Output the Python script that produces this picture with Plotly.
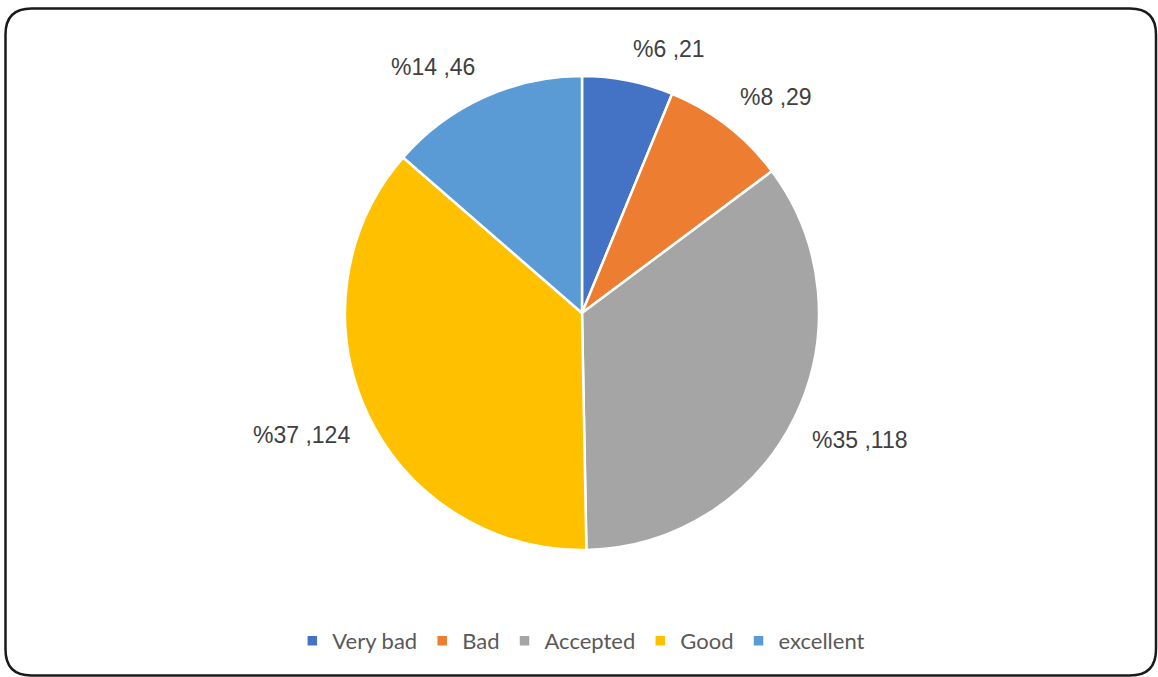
import math
import plotly.graph_objects as go

# Survey responses
categories = ["Very bad", "Bad", "Accepted", "Good", "excellent"]
counts = [21, 29, 118, 124, 46]
percents = [6, 8, 35, 37, 14]
colors = ["#4472C4", "#ED7D31", "#A5A5A5", "#FFC000", "#5B9BD5"]

W, H = 1158, 677
labels_text = [f"%{p} ,{c}" for p, c in zip(percents, counts)]

# pie placement (pixels): centre and radius
cx, cy, r = 582, 313, 237

fig = go.Figure(
    go.Pie(
        labels=categories,
        values=counts,
        textinfo="none",
        sort=False,
        direction="clockwise",
        rotation=0,
        marker=dict(colors=colors, line=dict(color="white", width=2.5)),
        domain=dict(x=[(cx - r) / W, (cx + r) / W], y=[1 - (cy + r) / H, 1 - (cy - r) / H]),
        hoverinfo="label+value+percent",
    )
)

# data labels just outside the rim, on each slice's bisector
gap = 17
total = sum(counts)
cum = 0
annotations = []
for txt, v in zip(labels_text, counts):
    mid = (cum + v / 2) / total * 2 * math.pi
    cum += v
    ux, uy = math.sin(mid), -math.cos(mid)  # screen direction (y down)
    px = cx + (r + gap) * ux
    py = cy + (r + gap) * uy
    xa = "left" if ux > 0.15 else ("right" if ux < -0.15 else "center")
    ya = "bottom" if uy < -0.3 else ("top" if uy > 0.3 else "middle")
    annotations.append(
        dict(
            x=px / W,
            y=1 - py / H,
            xref="paper",
            yref="paper",
            text=txt,
            showarrow=False,
            xanchor=xa,
            yanchor=ya,
            font=dict(family="Liberation Sans, Arial", size=23, color="#404040"),
        )
    )

# rounded chart-area border
x0, x1 = 5.5 / W, 1156.0 / W
y0, y1 = 1 - 675.5 / H, 1 - 8.5 / H
rx, ry = 26 / W, 26 / H
path = (
    f"M {x0 + rx},{y1} L {x1 - rx},{y1} Q {x1},{y1} {x1},{y1 - ry} "
    f"L {x1},{y0 + ry} Q {x1},{y0} {x1 - rx},{y0} "
    f"L {x0 + rx},{y0} Q {x0},{y0} {x0},{y0 + ry} "
    f"L {x0},{y1 - ry} Q {x0},{y1} {x0 + rx},{y1} Z"
)

fig.update_layout(
    width=W,
    height=H,
    margin=dict(l=0, r=0, t=0, b=0),
    paper_bgcolor="white",
    plot_bgcolor="white",
    showlegend=True,
    legend=dict(
        orientation="h",
        x=0.502,
        xanchor="center",
        y=1 - 641 / H,
        yanchor="middle",
        font=dict(family="Lato, Noto Sans", size=22, color="#595959"),
        itemwidth=30,
        traceorder="normal",
    ),
    annotations=annotations,
    shapes=[
        dict(
            type="path",
            path=path,
            xref="paper",
            yref="paper",
            line=dict(color="#1a1a1a", width=2.5),
            fillcolor="rgba(0,0,0,0)",
        )
    ],
)

fig.write_html("out.html")
